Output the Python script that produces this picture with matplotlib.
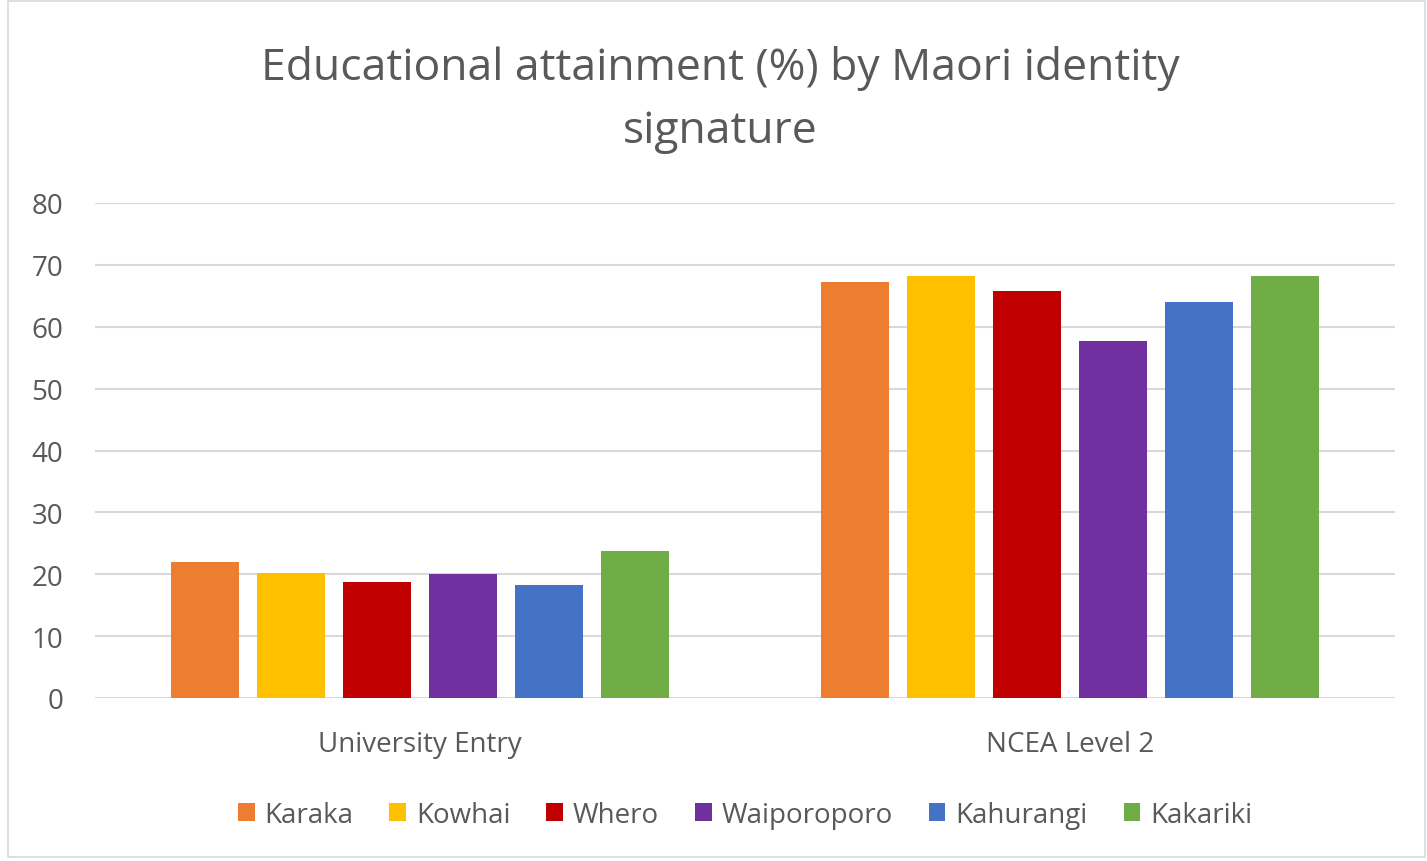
import numpy as np
import matplotlib.pyplot as plt
from matplotlib.patches import Rectangle

# Dane
categories = ["University Entry", "NCEA Level 2"]
series = ["Karaka", "Kowhai", "Whero", "Waiporoporo", "Kahurangi", "Kakariki"]
karaka = [21.9, 67.3]
kowhai = [20.2, 68.2]
whero = [18.8, 65.7]
waiporoporo = [20.0, 57.7]
kahurangi = [18.2, 64.0]
kakariki = [23.7, 68.2]
values = [karaka, kowhai, whero, waiporoporo, kahurangi, kakariki]
colors = ["#ED7D31", "#FFC000", "#C00000", "#7030A0", "#4472C4", "#70AD47"]

plt.rcParams['font.family'] = ['Open Sans', 'DejaVu Sans']
text_color = "#595959"

fig = plt.figure(figsize=(14.27, 8.62), dpi=100)
ax = fig.add_axes([95 / 1427, 1 - 699 / 862, 1300 / 1427, 495 / 862])

# Ramka wykresu
fig.patches.append(Rectangle((8 / 1427, 4 / 862), 1 - 10 / 1427, 1 - 6 / 862,
                             transform=fig.transFigure, fill=False,
                             edgecolor="#D9D9D9", linewidth=1.2))

x = np.arange(len(categories))
step = 86 / 650
width = 68 / 650
for i, (name, vals, c) in enumerate(zip(series, values, colors)):
    offset = (i - (len(series) - 1) / 2) * step
    ax.bar(x + offset, vals, width, color=c, label=name, zorder=3)

ax.set_xlim(-0.5, 1.5)
ax.set_ylim(0, 80)
ax.set_yticks(range(0, 81, 10))
ax.set_xticks(x)
ax.set_xticklabels(categories)
ax.grid(axis='y', color="#D9D9D9", linewidth=1.5, zorder=0)
for s in ax.spines.values():
    s.set_visible(False)
ax.tick_params(axis='both', length=0, colors=text_color, labelsize=20)
ax.tick_params(axis='y', pad=23)
ax.tick_params(axis='x', pad=23)

fig.text(720 / 1427, 1 - 100 / 862, "Educational attainment (%) by Maori identity\nsignature",
         ha='center', va='center', fontsize=32, color=text_color, linespacing=1.55)

leg = ax.legend(loc='center', bbox_to_anchor=(0.5, (699 - 816) / 495), ncol=6,
                frameon=False, fontsize=20, handlelength=0.6, handleheight=0.6,
                handletextpad=0.35, columnspacing=1.3)
for t in leg.get_texts():
    t.set_color(text_color)

fig.savefig("out.png", dpi=100)
